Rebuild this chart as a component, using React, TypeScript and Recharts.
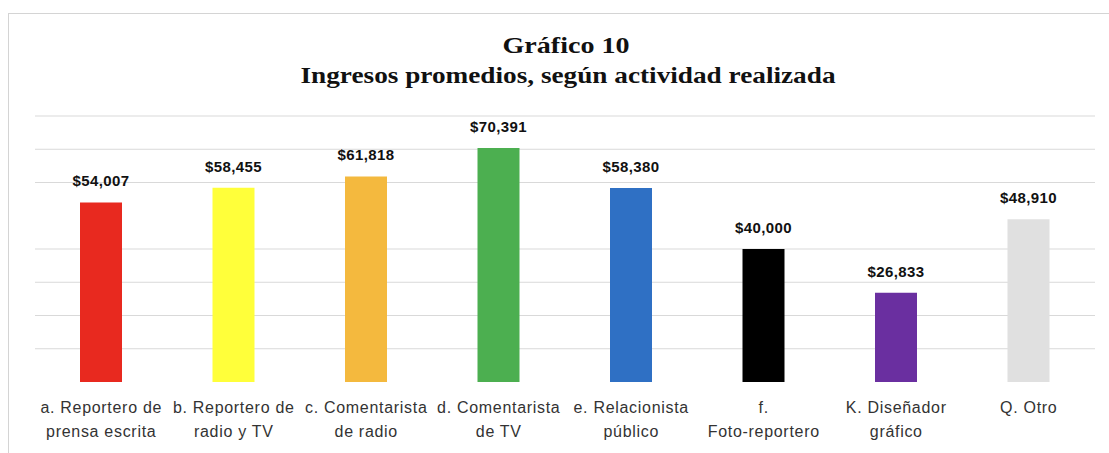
import React from "react";
import { BarChart, Bar, XAxis, YAxis, CartesianGrid, Cell, LabelList } from "recharts";

const categories: string[] = [
  "a. Reportero de\nprensa escrita",
  "b. Reportero de\nradio y TV",
  "c. Comentarista\nde radio",
  "d. Comentarista\nde TV",
  "e. Relacionista\npúblico",
  "f.\nFoto-reportero",
  "K. Diseñador\ngráfico",
  "Q. Otro",
];
const ingresos: number[] = [54007, 58455, 61818, 70391, 58380, 40000, 26833, 48910];
const colores: string[] = ["#E8291F", "#FFFF3A", "#F4B93E", "#4CAF50", "#2F70C4", "#000000", "#6A2FA0", "#E0E0E0"];
const gridValues: number[] = [10000, 20000, 30000, 40000, 60000, 70000, 80000];
const titulo = "Gráfico 10";
const subtitulo = "Ingresos promedios, según actividad realizada";

const data = categories.map((c, i) => ({ name: c, value: ingresos[i] }));

const fmt = (v: number) => "$" + v.toLocaleString("en-US");

const CatTick = (props: any) => {
  const { x, y, payload } = props;
  const lines = String(payload.value).split("\n");
  return (
    <text x={x} y={y} textAnchor="middle" fill="#333" fontSize={16} letterSpacing={0.7} fontFamily="Liberation Sans, Arial, sans-serif">
      {lines.map((l, i) => (
        <tspan key={i} x={x} y={y + 31 + i * 24}>{l}</tspan>
      ))}
    </text>
  );
};

export default function App() {
  return (
    <div style={{ position: "absolute", left: 0, top: 0, width: 1109, height: 453, background: "#fff", overflow: "hidden" }}>
      <div style={{ position: "absolute", left: 8, top: 13, width: 1120, height: 460, borderLeft: "1px solid #D4D4D4", borderTop: "1px solid #D4D4D4" }} />
      <svg style={{ position: "absolute", left: 0, top: 0 }} width={1109} height={110}>
        <text x={566} y={53} textAnchor="middle" fontFamily="Liberation Serif, Times New Roman, serif" fontWeight="bold" fontSize={24} fill="#111" textLength={127} lengthAdjust="spacingAndGlyphs">{titulo}</text>
        <text x={568} y={83} textAnchor="middle" fontFamily="Liberation Serif, Times New Roman, serif" fontWeight="bold" fontSize={24} fill="#111" textLength={535} lengthAdjust="spacingAndGlyphs">{subtitulo}</text>
      </svg>
      <div style={{ position: "absolute", left: 0, top: 0 }}>
        <BarChart width={1109} height={453} data={data} margin={{ top: 116, right: 14, bottom: 0, left: 35 }}>
          <CartesianGrid vertical={false} stroke="#D9D9D9" horizontalValues={gridValues} />
          <YAxis hide domain={[0, 80000]} ticks={[0, 10000, 20000, 30000, 40000, 50000, 60000, 70000, 80000]} />
          <XAxis dataKey="name" axisLine={false} tickLine={false} tickSize={0} tickMargin={0} height={71} interval={0} tick={<CatTick />} />
          <Bar dataKey="value" barSize={42} isAnimationActive={false}>
            {data.map((d, i) => (
              <Cell key={i} fill={colores[i]} />
            ))}
            <LabelList dataKey="value" position="top" offset={16} formatter={(v: any) => fmt(Number(v))} fill="#111" fontSize={15} letterSpacing={0.4} fontWeight="bold" fontFamily="Liberation Sans, Arial, sans-serif" />
          </Bar>
        </BarChart>
      </div>
    </div>
  );
}
